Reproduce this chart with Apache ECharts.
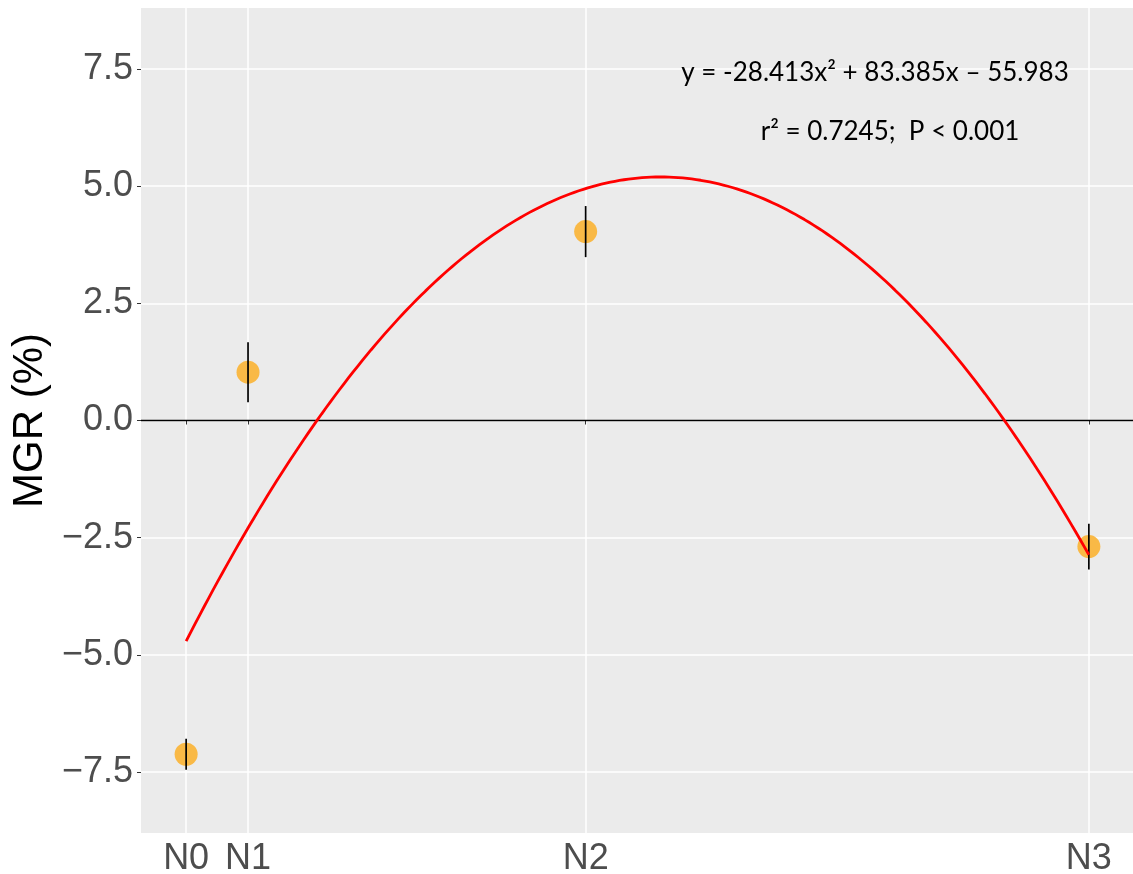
<!DOCTYPE html>
<html>
<head>
<meta charset="utf-8">
<title>MGR (%)</title>
<script src="https://cdn.jsdelivr.net/npm/echarts@6/dist/echarts.min.js"></script>
<style>
  html, body { margin: 0; padding: 0; background: #ffffff; overflow: hidden; }
  #chart { width: 1133px; height: 874px; }
</style>
</head>
<body>
<div id="chart"></div>
<script>
// Treatment groups and their positions on the numeric x scale
const categories = ['N0', 'N1', 'N2', 'N3'];
const xPositions = [0.877, 0.954, 1.374, 2.0];

// Mean growth rate (%) and its error (±) per group
const mgrMean = [-7.12, 1.03, 4.03, -2.69];
const mgrErr = [0.33, 0.64, 0.545, 0.49];

// Quadratic fit: y = a*x^2 + b*x + c
const fitCoef = [-28.413, 83.385, -55.983];

// Y axis breaks
const yTicks = [-7.5, -5.0, -2.5, 0.0, 2.5, 5.0, 7.5];
const yLimit = [-8.8, 8.8];

const eqText = 'y = -28.413x\u00B2 + 83.385x \u2013 55.983';
const statText = 'r\u00B2 = 0.7245;  P < 0.001';

// x range with 5% padding on each side of the groups
const xSpan = xPositions[xPositions.length - 1] - xPositions[0];
const xMin = xPositions[0] - 0.05 * xSpan;
const xMax = xPositions[xPositions.length - 1] + 0.05 * xSpan;

// Fitted curve sampled across the group range
const fitCurve = [];
const steps = 200;
for (let i = 0; i <= steps; i++) {
  const x = xPositions[0] + (xSpan * i) / steps;
  fitCurve.push([x, fitCoef[0] * x * x + fitCoef[1] * x + fitCoef[2]]);
}

const points = xPositions.map((x, i) => [x, mgrMean[i]]);
const errBars = xPositions.map((x, i) => [x, mgrMean[i] - mgrErr[i], mgrMean[i] + mgrErr[i]]);

function groupName(v) {
  let best = 0;
  for (let i = 1; i < xPositions.length; i++) {
    if (Math.abs(xPositions[i] - v) < Math.abs(xPositions[best] - v)) best = i;
  }
  return categories[best];
}

const chart = echarts.init(document.getElementById('chart'), null, { renderer: 'canvas' });

chart.setOption({
  animation: false,
  backgroundColor: '#ffffff',
  grid: {
    left: 141, right: -1, top: 8, bottom: 41,
    show: true, backgroundColor: '#EBEBEB', borderWidth: 0,
    containLabel: false,
    outerBoundsMode: 'none'
  },
  xAxis: {
    type: 'value',
    min: xMin, max: xMax,
    axisLine: { show: false },
    axisTick: { show: true, length: 4, lineStyle: { color: '#333333', width: 1 }, customValues: xPositions },
    axisLabel: {
      customValues: xPositions,
      formatter: (v) => groupName(v),
      color: '#4D4D4D', fontSize: 36, fontFamily: 'Liberation Sans', margin: 8
    },
    splitLine: { show: true, lineStyle: { color: '#FFFFFF', width: 1.5 } }
  },
  yAxis: {
    type: 'value',
    min: yLimit[0], max: yLimit[1],
    name: 'MGR (%)',
    nameLocation: 'middle',
    nameGap: 87,
    nameTextStyle: { color: '#000000', fontSize: 42, fontFamily: 'Liberation Sans' },
    axisLine: { show: false },
    axisTick: { show: true, length: 4, lineStyle: { color: '#333333', width: 1 }, customValues: yTicks },
    axisLabel: {
      customValues: yTicks,
      formatter: (v) => v.toFixed(1).replace('-', '\u2212'),
      color: '#4D4D4D', fontSize: 36, fontFamily: 'Liberation Sans', margin: 8
    },
    splitLine: { show: true, lineStyle: { color: '#FFFFFF', width: 1.5 } }
  },
  series: [
    {
      name: 'zero',
      type: 'line',
      data: [],
      silent: true,
      markLine: {
        silent: true,
        symbol: 'none',
        label: { show: false },
        lineStyle: { color: '#000000', width: 1.3, type: 'solid' },
        data: [{ yAxis: 0 }]
      },
      z: 2
    },
    {
      name: 'MGR',
      type: 'scatter',
      data: points,
      symbol: 'circle',
      symbolSize: 23,
      itemStyle: { color: '#F9B946', opacity: 1 },
      z: 3
    },
    {
      name: 'error',
      type: 'custom',
      data: errBars,
      renderItem: function (params, api) {
        const top = api.coord([api.value(0), api.value(2)]);
        const bottom = api.coord([api.value(0), api.value(1)]);
        return {
          type: 'line',
          shape: { x1: top[0], y1: top[1], x2: bottom[0], y2: bottom[1] },
          style: { stroke: '#000000', lineWidth: 1.7 }
        };
      },
      z: 4
    },
    {
      name: 'fit',
      type: 'line',
      data: fitCurve,
      showSymbol: false,
      smooth: false,
      lineStyle: { color: '#FF0000', width: 2.8 },
      z: 5
    }
  ],
  graphic: [
    {
      type: 'text',
      x: 875, y: 73,
      style: {
        text: eqText,
        fill: '#000000',
        font: '26px Lato',
        align: 'center',
        verticalAlign: 'middle'
      },
      z: 10
    },
    {
      type: 'text',
      x: 890, y: 132,
      style: {
        text: statText,
        fill: '#000000',
        font: '26px Lato',
        align: 'center',
        verticalAlign: 'middle'
      },
      z: 10
    }
  ]
});
</script>
</body>
</html>
